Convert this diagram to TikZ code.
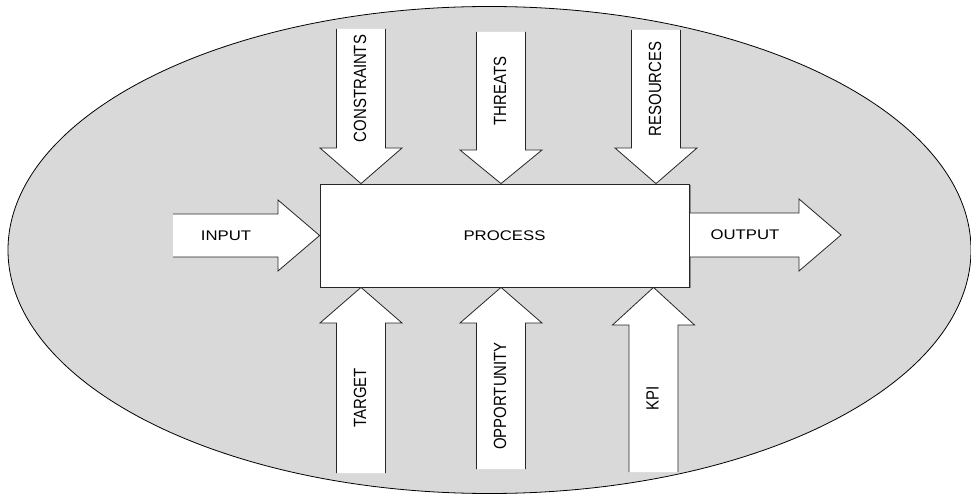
\documentclass[tikz,border=0pt]{standalone}
\usepackage{fontspec}
\setmainfont{Liberation Sans}
\usepackage{graphicx}
\definecolor{bg}{rgb}{0.85,0.85,0.85}
\tikzset{
    blkline/.style={draw=black!85, line width=0.8bp, line join=miter},
    hlabel/.style={font=\fontsize{14}{16}\selectfont, inner sep=0pt},
    vlabel/.style={font=\fontsize{15}{17}\selectfont, inner sep=0pt, rotate=90},
}
\newcommand{\hwide}[1]{\scalebox{1.2}[1]{#1}}
\newcommand{\vwide}[1]{\scalebox{1}[1.18]{#1}}

\begin{document}
\begin{tikzpicture}[x=1bp, y=-1bp]
    \useasboundingbox (0,0) rectangle (971,496);
    \draw[fill=bg, line width=0.8bp] (489.5,250) ellipse [x radius=481.5, y radius=243.5];
    \fill[black!45] (321.5,185.5) rectangle (690.5,288.5);
    % output first, so the box edge stays on top of it
    \fill[white] (688,213) -- (799,213) -- (799,199) -- (841,235) -- (799,271) -- (799,257) -- (688,257) -- cycle;
    \draw[blkline] (688,213) -- (799,213) -- (799,199) -- (841,235) -- (799,271) -- (799,257) -- (688,257);
    \node[hlabel] (output) at (745,235) {\hwide{OUTPUT}};
    \node[draw=black!85, fill=white, line width=0.8bp, minimum width=369bp, minimum height=103bp,
          inner sep=0pt, hlabel] (process) at (504.5,235.5) {\hwide{PROCESS}};
    % arrows going down into the process
    \foreach \cx/\ty/\hy/\lab/\nm in {361/29/148/CONSTRAINTS/constraints,
                                      501/32/150/THREATS/threats,
                                      656/30/148/RESOURCES/resources} {
        \fill[white] (\cx-24.5,\ty) -- (\cx-24.5,\hy) -- (\cx-41,\hy) -- (\cx,0 |- process.north)
            -- (\cx+41,\hy) -- (\cx+24.5,\hy) -- (\cx+24.5,\ty) -- cycle;
        \draw[blkline] (\cx-24.5,\ty) -- (\cx-24.5,\hy) -- (\cx-41,\hy) -- (\cx,0 |- process.north)
            -- (\cx+41,\hy) -- (\cx+24.5,\hy) -- (\cx+24.5,\ty);
        \node[vlabel] (\nm) at (\cx-1,{(\ty+\hy)/2}) {\vwide{\lab}};
    }
    % arrows going up into the process
    \foreach \cx/\by/\hy/\lab/\nm in {361/473/323/TARGET/target,
                                      501/469/323/OPPORTUNITY/opportunity,
                                      653.5/472/325/KPI/kpi} {
        \fill[white] (\cx-24.5,\by) -- (\cx-24.5,\hy) -- (\cx-41,\hy) -- (\cx,0 |- process.south)
            -- (\cx+41,\hy) -- (\cx+24.5,\hy) -- (\cx+24.5,\by) -- cycle;
        \draw[blkline] (\cx-24.5,\by) -- (\cx-24.5,\hy) -- (\cx-41,\hy) -- (\cx,0 |- process.south)
            -- (\cx+41,\hy) -- (\cx+24.5,\hy) -- (\cx+24.5,\by);
        \node[vlabel] (\nm) at (\cx-1,{(\by+\hy)/2}) {\vwide{\lab}};
    }
    % input
    \fill[white] (173,214) -- (278,214) -- (278,200) -- (process.west) -- (278,271) -- (278,257) -- (173,257) -- cycle;
    \draw[blkline] (173,214) -- (278,214) -- (278,200) -- (process.west) -- (278,271) -- (278,257) -- (173,257);
    \node[hlabel] (input) at (226,236) {\hwide{INPUT}};
\end{tikzpicture}
\end{document}
